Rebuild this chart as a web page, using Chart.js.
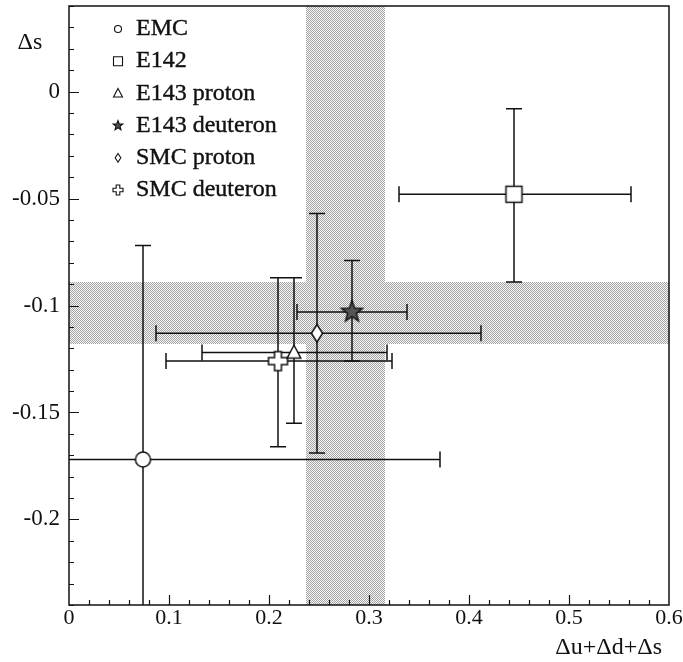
<!DOCTYPE html>
<html>
<head>
<meta charset="utf-8">
<script src="https://cdn.jsdelivr.net/npm/chart.js@4.4.1/dist/chart.umd.min.js"></script>
<style>
  html, body { margin: 0; padding: 0; background: #fff; overflow: hidden; }
  #wrap { width: 683px; height: 662px; }
</style>
</head>
<body>
<div id="wrap"><canvas id="chart" width="683" height="662"></canvas></div>
<script>
// data
const experiments = ['EMC', 'E142', 'E143 proton', 'E143 deuteron', 'SMC proton', 'SMC deuteron'];
const sumDelta    = [0.074, 0.445, 0.225, 0.283, 0.248, 0.209];
const sumLow      = [-0.223, 0.330, 0.133, 0.228, 0.087, 0.097];
const sumHigh     = [0.371, 0.562, 0.318, 0.338, 0.412, 0.323];
const deltaS      = [-0.172, -0.048, -0.122, -0.103, -0.113, -0.126];
const deltaSLow   = [-0.272, -0.089, -0.155, -0.126, -0.169, -0.166];
const deltaSHigh  = [-0.072, -0.008, -0.087, -0.079, -0.057, -0.087];
const bandSum     = [0.237, 0.316];
const bandDeltaS  = [-0.118, -0.089];
const xTickValues = [0, 0.1, 0.2, 0.3, 0.4, 0.5, 0.6];
const yTickValues = [-0.2, -0.15, -0.1, -0.05, 0];

// styling
const FONT = "'Liberation Serif', 'DejaVu Serif', serif";
const INK = '#111';
const markerKinds = ['circle', 'square', 'triangle', 'star', 'diamond', 'cross'];
const markerSizes = [7.5, 8, 6.8, 11, 7, 9.5];
const legendSizes = [3.5, 4.5, 4.5, 5, 3.5, 5];

function drawShape(ctx, kind, cx, cy, s, lw) {
  ctx.save();
  ctx.lineWidth = lw;
  ctx.strokeStyle = INK;
  ctx.fillStyle = '#fff';
  ctx.beginPath();
  if (kind === 'circle') {
    ctx.arc(cx, cy, s, 0, Math.PI * 2);
  } else if (kind === 'square') {
    ctx.rect(cx - s, cy - s, 2 * s, 2 * s);
  } else if (kind === 'triangle') {
    ctx.moveTo(cx, cy - s * 1.1);
    ctx.lineTo(cx + s, cy + s * 0.8);
    ctx.lineTo(cx - s, cy + s * 0.8);
    ctx.closePath();
  } else if (kind === 'star') {
    for (let i = 0; i < 10; i++) {
      const r = i % 2 === 0 ? s : s * 0.42;
      const a = -Math.PI / 2 + i * Math.PI / 5;
      const px = cx + r * Math.cos(a), py = cy + r * Math.sin(a);
      if (i === 0) ctx.moveTo(px, py); else ctx.lineTo(px, py);
    }
    ctx.closePath();
    ctx.fillStyle = '#555';
  } else if (kind === 'diamond') {
    ctx.moveTo(cx, cy - s * 1.25);
    ctx.lineTo(cx + s * 0.8, cy);
    ctx.lineTo(cx, cy + s * 1.25);
    ctx.lineTo(cx - s * 0.8, cy);
    ctx.closePath();
  } else if (kind === 'cross') {
    const a = s * 0.36;
    const pts = [[-a, -s], [a, -s], [a, -a], [s, -a], [s, a], [a, a], [a, s], [-a, s], [-a, a], [-s, a], [-s, -a], [-a, -a]];
    pts.forEach((p, i) => i === 0 ? ctx.moveTo(cx + p[0], cy + p[1]) : ctx.lineTo(cx + p[0], cy + p[1]));
    ctx.closePath();
  }
  ctx.fill();
  ctx.stroke();
  ctx.restore();
}

function makeMarker(kind, s) {
  const c = document.createElement('canvas');
  const size = Math.ceil(s * 2.8 + 4);
  c.width = size;
  c.height = size;
  drawShape(c.getContext('2d'), kind, size / 2, size / 2, s, 1.5);
  return c;
}

function makeStipple() {
  const c = document.createElement('canvas');
  c.width = 2;
  c.height = 2;
  const g = c.getContext('2d');
  g.fillStyle = '#f6f6f6';
  g.fillRect(0, 0, 2, 2);
  g.fillStyle = '#a4a4a4';
  g.fillRect(0, 0, 1, 1);
  g.fillRect(1, 1, 1, 1);
  return c;
}

const bandsAndBars = {
  id: 'bandsAndBars',
  beforeDatasetsDraw(chart) {
    const { ctx, chartArea: ca, scales: { x, y } } = chart;
    ctx.save();
    ctx.beginPath();
    ctx.rect(ca.left, ca.top, ca.right - ca.left, ca.bottom - ca.top);
    ctx.clip();

    // shaded bands
    ctx.fillStyle = ctx.createPattern(makeStipple(), 'repeat');
    const bx0 = x.getPixelForValue(bandSum[0]), bx1 = x.getPixelForValue(bandSum[1]);
    ctx.fillRect(bx0, ca.top, bx1 - bx0, ca.bottom - ca.top);
    const by0 = y.getPixelForValue(bandDeltaS[1]), by1 = y.getPixelForValue(bandDeltaS[0]);
    ctx.fillRect(ca.left, by0, ca.right - ca.left, by1 - by0);

    // error bars
    ctx.strokeStyle = INK;
    ctx.lineWidth = 1.5;
    const cap = 8;
    experiments.forEach((name, i) => {
      const px = x.getPixelForValue(sumDelta[i]);
      const py = y.getPixelForValue(deltaS[i]);
      const xl = x.getPixelForValue(sumLow[i]), xh = x.getPixelForValue(sumHigh[i]);
      const yl = y.getPixelForValue(deltaSLow[i]), yh = y.getPixelForValue(deltaSHigh[i]);
      ctx.beginPath();
      ctx.moveTo(xl, py); ctx.lineTo(xh, py);
      ctx.moveTo(px, yl); ctx.lineTo(px, yh);
      ctx.moveTo(xl, py - cap); ctx.lineTo(xl, py + cap);
      ctx.moveTo(xh, py - cap); ctx.lineTo(xh, py + cap);
      ctx.moveTo(px - cap, yl); ctx.lineTo(px + cap, yl);
      ctx.moveTo(px - cap, yh); ctx.lineTo(px + cap, yh);
      ctx.stroke();
    });
    ctx.restore();
  },
  afterDraw(chart) {
    const { ctx, chartArea: ca, scales: { x, y } } = chart;
    ctx.save();
    ctx.strokeStyle = INK;
    ctx.lineWidth = 1.5;
    ctx.strokeRect(ca.left, ca.top, ca.right - ca.left, ca.bottom - ca.top);

    // inward ticks
    ctx.lineWidth = 1.2;
    ctx.beginPath();
    for (let i = -24; i <= 4; i++) {
      const py = Math.round(y.getPixelForValue(i / 100)) + 0.5;
      const len = i % 5 === 0 ? 10 : 5;
      ctx.moveTo(ca.left, py); ctx.lineTo(ca.left + len, py);
    }
    for (let i = 1; i < 30; i++) {
      const px = Math.round(x.getPixelForValue(i * 0.02)) + 0.5;
      const len = i % 5 === 0 ? 10 : 5;
      ctx.moveTo(px, ca.bottom); ctx.lineTo(px, ca.bottom - len);
    }
    ctx.stroke();

    // axis titles
    ctx.fillStyle = INK;
    ctx.strokeStyle = INK;
    ctx.lineWidth = 0.4;
    ctx.font = '24px ' + FONT;
    ctx.textBaseline = 'middle';
    ctx.textAlign = 'right';
    ctx.fillText('\u0394u+\u0394d+\u0394s', 662, 648);
    ctx.textAlign = 'center';
    ctx.fillText('\u0394s', 30, 43);

    // legend
    ctx.textAlign = 'left';
    experiments.forEach((name, i) => {
      const ly = 29 + i * 32.2;
      drawShape(ctx, markerKinds[i], 118, ly, legendSizes[i], 1.1);
      ctx.fillStyle = INK;
      ctx.fillText(name, 136, ly);
      ctx.strokeText(name, 136, ly);
    });
    ctx.restore();
  }
};

const datasets = experiments.map((name, i) => ({
  label: name,
  data: [{ x: sumDelta[i], y: deltaS[i] }],
  pointStyle: makeMarker(markerKinds[i], markerSizes[i]),
  pointRadius: markerSizes[i],
  pointHoverRadius: markerSizes[i],
  showLine: false
}));

new Chart(document.getElementById('chart'), {
  type: 'scatter',
  data: { datasets },
  options: {
    responsive: false,
    animation: false,
    events: [],
    layout: { autoPadding: false, padding: { top: 6, right: 14, left: 0, bottom: 0 } },
    plugins: { legend: { display: false }, tooltip: { enabled: false } },
    scales: {
      x: {
        type: 'linear', min: 0, max: 0.6,
        grid: { display: false }, border: { display: false },
        afterBuildTicks: s => { s.ticks = xTickValues.map(v => ({ value: v })); },
        afterFit: s => { s.height = 57; s.paddingLeft = 0; s.paddingRight = 0; },
        ticks: { color: INK, font: { family: FONT, size: 22 }, padding: -8, maxRotation: 0, autoSkip: false, callback: v => String(v) }
      },
      y: {
        type: 'linear', min: -0.24, max: 0.04,
        grid: { display: false }, border: { display: false },
        afterBuildTicks: s => { s.ticks = yTickValues.map(v => ({ value: v })); },
        afterFit: s => { s.width = 69; s.paddingTop = 0; s.paddingBottom = 0; },
        ticks: { color: INK, font: { family: FONT, size: 23 }, padding: 1, autoSkip: false, callback: v => String(v) }
      }
    }
  },
  plugins: [bandsAndBars]
});
</script>
</body>
</html>
